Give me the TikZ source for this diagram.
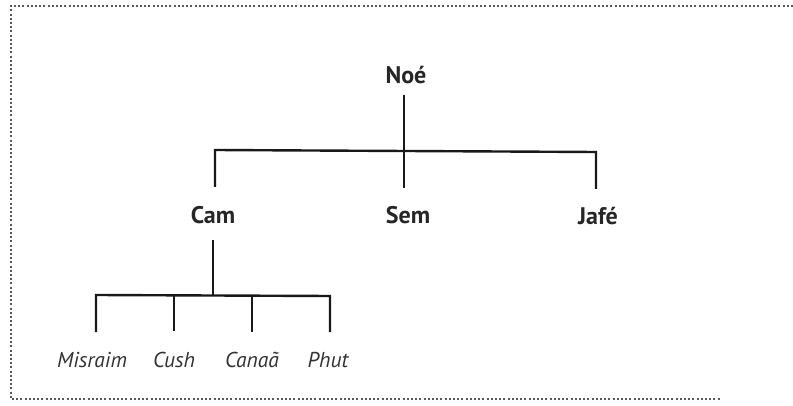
\documentclass[tikz,border=0pt]{standalone}
\usepackage{fontspec}
\setmainfont{PT Sans}
\begin{document}
\begin{tikzpicture}[x=1pt,y=-1pt,
  parent/.style={font=\fontsize{24}{28}\selectfont\bfseries, text=black!85, inner sep=0pt},
  child/.style={font=\fontsize{21.5}{25}\selectfont\itshape, text=black!80, inner sep=0pt},
  branch/.style={line width=2.4pt, black!90},
  frame/.style={line width=2pt, black!65, dash pattern=on 2pt off 2.2pt}]
\useasboundingbox (0,0) rectangle (793,406);

% dotted frame (open on the right)
\draw[frame] (793,6) -- (11,6) -- (11,399) -- (720,399);

% names
\node[parent] (noe)  at (406,75)  {Noé};
\node[parent] (cam)  at (213,215) {Cam};
\node[parent] (sem)  at (408,215) {Sem};
\node[parent] (jafe) at (598,216) {Jafé};

\node[child] (misraim) at (92,360)  {Misraim};
\node[child] (cush)    at (174,360) {Cush};
\node[child] (canaa)   at (252,360) {Canaã};
\node[child] (phut)    at (328,360) {Phut};

% junctions of the first generation
\coordinate (top1)  at (404,95);
\coordinate (mid1)  at (404,151);
\coordinate (left1) at (215,150);
\coordinate (right1) at (596,152);
\coordinate (camtop) at (215,187);
\coordinate (semtop) at (404,188);
\coordinate (jafetop) at (596,189);

\draw[branch] (top1) -- (semtop);
\draw[branch] (camtop) -- (left1) -- (right1) -- (jafetop);

% junctions of the second generation
\coordinate (cambot) at (213,240);
\coordinate (bar2)   at (213,295);
\coordinate (m2) at (96,295);
\coordinate (c2) at (174,295);
\coordinate (a2) at (252,296);
\coordinate (p2) at (330,296);

\draw[branch] (cambot) -- (bar2);
\draw[branch] (96,332) -- (m2) -- (p2) -- (330,332);
\draw[branch] (c2) -- (174,331);
\draw[branch] (a2) -- (252,332);
\end{tikzpicture}
\end{document}
